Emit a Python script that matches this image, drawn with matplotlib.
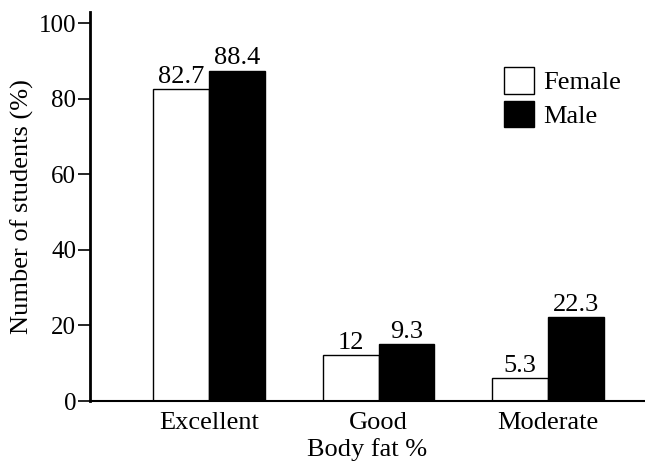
import numpy as np
import matplotlib as mpl
mpl.use('Agg')
import matplotlib.pyplot as plt

mpl.rcParams['font.family'] = 'Liberation Serif'
mpl.rcParams['font.size'] = 19

categories = ['Excellent', 'Good', 'Moderate']
female = [82.5, 12.2, 6.1]          # bar heights as drawn
male = [87.5, 15.1, 22.2]
female_labels = ['82.7', '12', '5.3']
male_labels = ['88.4', '9.3', '22.3']
yticks = [0, 20, 40, 60, 80, 100]

fig = plt.figure(figsize=(6.45, 4.65), dpi=100)
ax = fig.add_axes([0.1395, 0.1376, 0.8605, 0.8364])

x = np.arange(len(categories))
w = 0.33
bf = ax.bar(x - w/2, female, w, color='white', edgecolor='black', linewidth=1.0, label='Female')
bm = ax.bar(x + w/2, male, w, color='black', edgecolor='black', linewidth=1.0, label='Male')

for rect, lab in zip(list(bf) + list(bm), female_labels + male_labels):
    ax.text(rect.get_x() + rect.get_width()/2, rect.get_height() + 0.3, lab,
            ha='center', va='bottom', fontsize=19)

ax.set_xlim(-0.702, 2.572)
ax.set_ylim(0, 103)
ax.set_yticks(yticks)
ax.set_xticks(x)
ax.set_xticklabels(categories)
ax.tick_params(axis='x', length=0, pad=8)
ax.tick_params(axis='y', length=9, width=1.2, pad=1, labelsize=18)

for s in ['top', 'right']:
    ax.spines[s].set_visible(False)
ax.spines['left'].set_linewidth(2)
ax.spines['bottom'].set_linewidth(1.5)

ax.set_ylabel('Number of students (%)', labelpad=3)
ax.set_xlabel('Body fat %', labelpad=3)

ax.legend(loc='upper left', bbox_to_anchor=(0.727, 0.885), frameon=False,
          handlelength=1.15, handleheight=1.15, handletextpad=0.35, labelspacing=0.25,
          borderaxespad=0, fontsize=19)

fig.savefig('out.png', dpi=100)
